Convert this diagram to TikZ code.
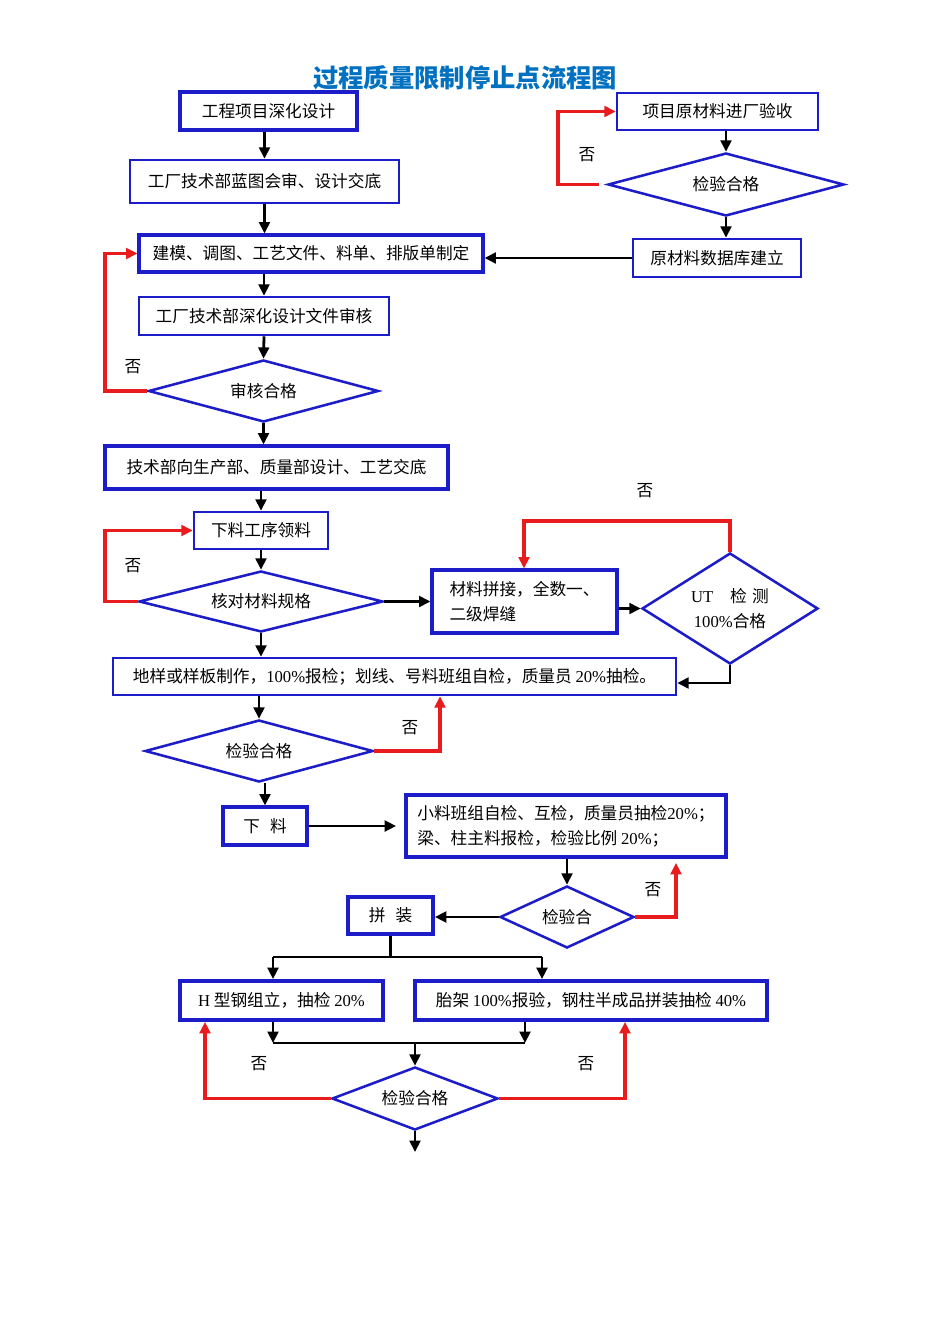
\documentclass[tikz,border=0pt]{standalone}
\usepackage{fontspec}
\newfontfamily\cjk{Noto Sans CJK SC}
\newfontfamily\lt{Liberation Serif}
\usetikzlibrary{arrows.meta,shapes.geometric}
\definecolor{bx}{RGB}{28,28,200}
\definecolor{rd}{RGB}{232,28,28}
\definecolor{tt}{RGB}{0,112,192}
\newdimen\pxu \pxu=0.75pt
\begin{document}
\begin{tikzpicture}[x=0.75pt,y=-0.75pt,
  box/.style={draw=bx,line width=1.9pt,rectangle,inner sep=0pt,text=black,
    font=\cjk\fontsize{12.5pt}{18.5pt}\selectfont},
  tbox/.style={box,line width=2.9pt},
  dia/.style={draw=bx,line width=1.9pt,diamond,shape aspect=3,inner sep=0pt,text=black,
    font=\cjk\fontsize{12.5pt}{18.5pt}\selectfont},
  ln/.style={line width=2.1pt,draw=black},
  ar/.style={ln,-{Triangle[length=8.5pt,width=8pt]}},
  rar/.style={line width=2.6pt,draw=rd,-{Triangle[length=8.5pt,width=8pt]}},
  fou/.style={font=\cjk\fontsize{12.5pt}{15pt}\selectfont,text=black,inner sep=0pt}]
\fill[white] (0,0) rectangle (950,1344);
\useasboundingbox (0,0) rectangle (950,1344);

% title
\node[font=\cjk\bfseries\fontsize{19pt}{22pt}\selectfont,text=tt,inner sep=0pt] (title) at (465,78) {过程质量限制停止点流程图};

% left column
\node[tbox,minimum width=177\pxu,minimum height=38\pxu] (b1) at (268.5,111) {工程项目深化设计};
\node[box,minimum width=269\pxu,minimum height=43\pxu] (b2) at (264.5,181.5) {工厂技术部蓝图会审、设计交底};
\node[box,line width=2.3pt,minimum width=344\pxu,minimum height=37\pxu] (b3) at (311,253.5) {建模、调图、工艺文件、料单、排版单制定};
\node[box,minimum width=250\pxu,minimum height=38\pxu] (b4) at (264,316) {工厂技术部深化设计文件审核};
\node[dia,minimum width=230\pxu,minimum height=62\pxu] (d1) at (263.5,391) {审核合格};
\node[box,line width=2.3pt,minimum width=343\pxu,minimum height=43\pxu] (b5) at (276.5,467.5) {技术部向生产部、质量部设计、工艺交底\hspace{10pt}};
\node[box,minimum width=134\pxu,minimum height=37\pxu] (b6) at (261,530.5) {下料工序领料};
\node[dia,minimum width=244\pxu,minimum height=61\pxu] (d2) at (261,601.5) {核对材料规格};
\node[box,line width=2.3pt,minimum width=185\pxu,minimum height=63\pxu,align=left] (b7) at (524.5,601.5) {材料拼接，全数一、\\二级焊缝};
\node[dia,shape aspect=1.6,minimum width=176\pxu,minimum height=111\pxu,align=center] (d3) at (730,608.5) {{\lt UT}\quad 检\,\,测\\{\lt 100\%}合格};
\node[box,minimum width=563\pxu,minimum height=37\pxu] (b8) at (394.5,676.5) {地样或样板制作，{\lt 100\%}报检；划线、号料班组自检，质量员 {\lt 20\%}抽检。\hspace{8pt}};
\node[dia,minimum width=228\pxu,minimum height=62\pxu] (d4) at (259,751) {检验合格};
\node[box,line width=2.3pt,minimum width=84\pxu,minimum height=38\pxu] (b9) at (265,826) {下\hspace{0.6em}料};
\node[tbox,minimum width=320\pxu,minimum height=62\pxu,align=left] (b10) at (566,826) {小料班组自检、互检，质量员抽检{\lt 20\%}；\\梁、柱主料报检，检验比例 {\lt 20\%}；};
\node[dia,minimum width=134\pxu,minimum height=62\pxu] (d5) at (567,917) {检验合};
\node[tbox,minimum width=85\pxu,minimum height=37\pxu] (b11) at (390.5,915.5) {拼\hspace{0.6em}装};
\node[tbox,minimum width=203\pxu,minimum height=39\pxu] (b12) at (281.5,1000.5) {{\lt H} 型钢组立，抽检 {\lt 20\%}};
\node[tbox,minimum width=352\pxu,minimum height=39\pxu] (b13) at (591,1000.5) {胎架 {\lt 100\%}报验，钢柱半成品拼装抽检 {\lt 40\%}};
\node[dia,minimum width=166\pxu,minimum height=63\pxu] (d6) at (415,1098.5) {检验合格};

% right top column
\node[box,minimum width=201\pxu,minimum height=37\pxu] (b14) at (717.5,111.5) {项目原材料进厂验收};
\node[dia,minimum width=236\pxu,minimum height=63\pxu] (d7) at (726,184.5) {检验合格};
\node[box,minimum width=168\pxu,minimum height=38\pxu] (b15) at (717,258) {原材料数据库建立};

% "no" labels
\node[fou] (n1) at (587,155) {否};
\node[fou] (n2) at (133,367) {否};
\node[fou] (n3) at (133,566) {否};
\node[fou] (n4) at (645,491) {否};
\node[fou] (n5) at (410,728) {否};
\node[fou] (n6) at (653,890) {否};
\node[fou] (n7) at (259,1064) {否};
\node[fou] (n8) at (586,1064) {否};

% bend coordinates
\coordinate (r1) at (105,391);
\coordinate (r2) at (105,601.5);
\coordinate (r3) at (524,521);
\coordinate (r3b) at (730,683);
\coordinate (r4) at (440,751);
\coordinate (r5) at (676,917);
\coordinate (r7) at (558,184.5);
\coordinate (sl) at (273,957);
\coordinate (sr) at (542,957);
\coordinate (ml) at (273,1043);
\coordinate (mr) at (525,1043);
\coordinate (mc) at (415,1043);
\coordinate (rl) at (205,1098.5);
\coordinate (rr) at (625,1098.5);
\coordinate (fin) at (415,1152);

% black connectors
\draw[ar] (b2.north |- b1.south) -- (b2.north);
\draw[ar] (b2.south) -- (b2.south |- b3.north);
\draw[ar] (b4.north |- b3.south) -- (b4.north);
\draw[ar] (b4.south) -- (d1.north);
\draw[ar] (d1.south) -- (d1.south |- b5.north);
\draw[ar] (b6.north |- b5.south) -- (b6.north);
\draw[ar] (b6.south) -- (d2.north);
\draw[ar] (d2.east) -- (d2.east -| b7.west);
\draw[ar] (d3.west -| b7.east) -- (d3.west);
\draw[ar] (d3.south) -- (r3b) -- (r3b -| b8.east);
\draw[ar] (d2.south) -- (d2.south |- b8.north);
\draw[ar] (d4.north |- b8.south) -- (d4.north);
\draw[ar] (b9.north |- d4.south) -- (b9.north);
\draw[ar] (b9.east) -- ([xshift=-6pt]b10.west);
\draw[ar] (d5.north |- b10.south) -- (d5.north);
\draw[ar] (d5.west) -- (d5.west -| b11.east);
\draw[ln] (b11.south) -- (b11.south |- sl);
\draw[ln] (sl) -- (sr);
\draw[ar] (sl) -- (sl |- b12.north);
\draw[ar] (sr) -- (sr |- b13.north);
\draw[ar] (ml |- b12.south) -- (ml);
\draw[ar] (mr |- b13.south) -- (mr);
\draw[ln] (ml) -- (mr);
\draw[ar] (mc) -- (d6.north);
\draw[ar] (d6.south) -- (fin);
\draw[ar] (d7.north |- b14.south) -- (d7.north);
\draw[ar] (d7.south) -- (d7.south |- b15.north);
\draw[ar] (b15.west) -- (b15.west -| b3.east);

% red connectors
\draw[rar] (d1.west) -- (r1) |- (b3.west);
\draw[rar] (d2.west) -- (r2) |- (b6.west);
\draw[rar] (d3.north) |- (r3) -- (r3 |- b7.north);
\draw[rar] (d4.east) -- (r4) -- (r4 |- b8.south);
\draw[rar] (d5.east) -- (r5) -- ([yshift=-3pt]r5 |- b10.south);
\draw[rar] ([xshift=-6pt]d7.west) -- (r7) |- (b14.west);
\draw[rar] (d6.west) -- (rl) -- (rl |- b12.south);
\draw[rar] (d6.east) -- (rr) -- (rr |- b13.south);
\end{tikzpicture}
\end{document}
